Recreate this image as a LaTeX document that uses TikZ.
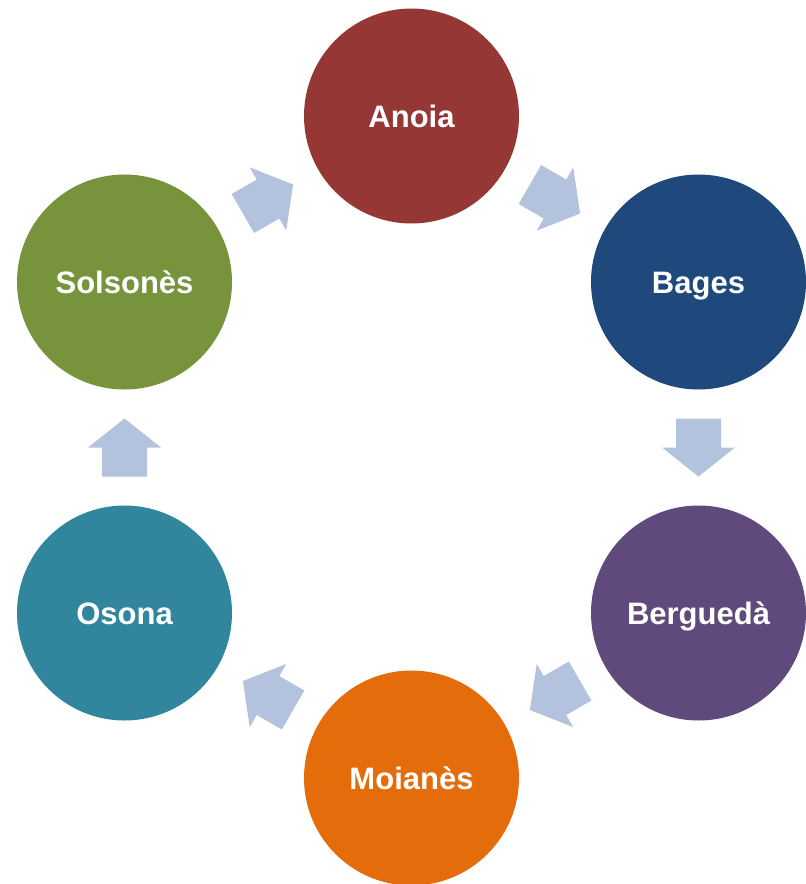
\documentclass[tikz,border=0pt]{standalone}
\usepackage{fontspec}
\setmainfont{Liberation Sans}
\usetikzlibrary{calc}
\definecolor{cAnoia}{HTML}{953735}
\definecolor{cBages}{HTML}{1F497D}
\definecolor{cBergueda}{HTML}{604A7B}
\definecolor{cMoianes}{HTML}{E46C0A}
\definecolor{cOsona}{HTML}{31859C}
\definecolor{cSolsones}{HTML}{77933C}
\definecolor{cArrow}{HTML}{B3C3DE}
\tikzset{
  comarca/.style={circle, fill=#1, draw=none, minimum size=215pt, inner sep=0pt,
    text=white, font=\fontsize{31}{37}\selectfont\bfseries, text height=22pt, text depth=0pt},
  blockarrow/.pic={\fill[cArrow] (-29,-22.5) -- (0,-22.5) -- (0,-36.5) -- (29,0)
     -- (0,36.5) -- (0,22.5) -- (-29,22.5) -- cycle;}
}
\begin{document}
\begin{tikzpicture}[x=1pt,y=-1pt]
\useasboundingbox (0,0) rectangle (806,884);
\node[comarca=cAnoia]    (anoia)    at (411.5,116) {Anoia};
\node[comarca=cBages]    (bages)    at (698.5,282) {Bages};
\node[comarca=cBergueda] (bergueda) at (698.5,613) {Berguedà};
\node[comarca=cMoianes]  (moianes)  at (411.5,778) {Moianès};
\node[comarca=cOsona]    (osona)    at (124.5,613) {Osona};
\node[comarca=cSolsones] (solsones) at (124.5,282) {Solsonès};
\pic[rotate=-30]  at ($(anoia)!0.5!(bages)$)       {blockarrow};
\pic[rotate=-90]  at ($(bages)!0.5!(bergueda)$)    {blockarrow};
\pic[rotate=210]  at ($(bergueda)!0.5!(moianes)$)  {blockarrow};
\pic[rotate=150]  at ($(moianes)!0.5!(osona)$)     {blockarrow};
\pic[rotate=90]   at ($(osona)!0.5!(solsones)$)    {blockarrow};
\pic[rotate=30]   at ($(solsones)!0.5!(anoia)$)    {blockarrow};
\end{tikzpicture}
\end{document}
